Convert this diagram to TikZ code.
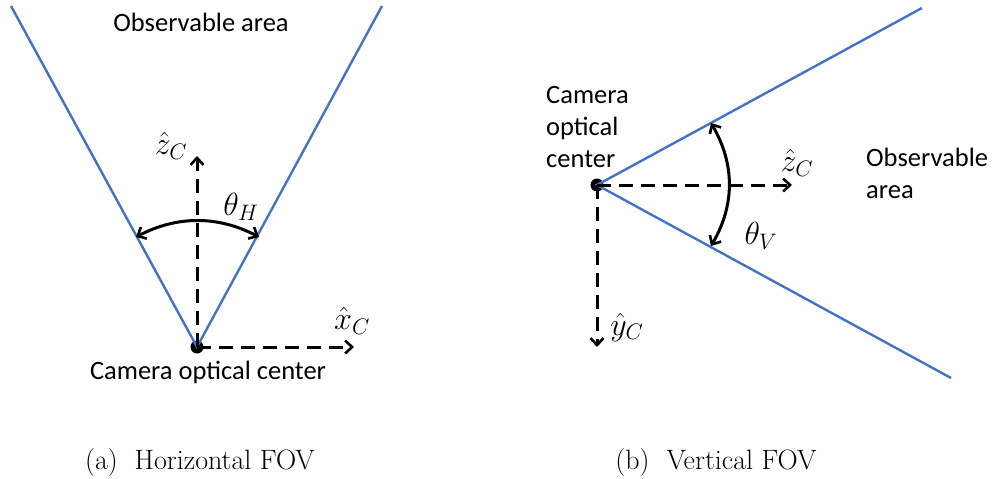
\RequirePackage{fix-cm}
\documentclass[tikz,border=0pt]{standalone}
\usepackage{fontspec}
\setsansfont{Carlito}
\usetikzlibrary{arrows.meta}
\begin{document}
\begin{tikzpicture}[x=1pt,y=-1pt,
  fovc/.style={draw={rgb,255:red,68;green,114;blue,196}, line width=2.4pt},
  tip/.tip={Straight Barb[length=7pt,width=13pt,line width=2.6pt]},
  axis/.style={draw=black, line width=3pt, dash pattern=on 14pt off 8pt, -tip},
  arcarrow/.style={draw=black, line width=3pt, tip-tip},
  dot/.style={circle, fill=black, inner sep=0pt, minimum size=13pt},
  lbl/.style={font=\sffamily\fontsize{26.5}{32}\selectfont, inner sep=0pt},
  mlbl/.style={font=\fontsize{32}{36}\selectfont, inner sep=0pt},
  captext/.style={font=\fontsize{28}{32}\selectfont, inner sep=0pt}]
\useasboundingbox (0,0) rectangle (997,479);
% ---- (a) horizontal
\node[dot] (ca) at (197,347) {};
\coordinate (aL) at (11,6);
\coordinate (aR) at (382,6);
\coordinate (az) at (197,156);
\coordinate (ax) at (354,347);
\draw[fovc] (aL) -- (ca.center) -- (aR);
\draw[axis] (ca.center) -- (az);
\draw[axis] (ca.center) -- (ax);
\coordinate (a1) at (136,237);
\coordinate (a2) at (259,237);
\draw[arcarrow] (a1) .. controls (177,215.5) and (218,215.5) .. (a2);
\node[mlbl] (zA) at (171,146) {$\hat{z}_C$};
\node[mlbl] (thH) at (241,207) {$\theta_H$};
\node[mlbl] (xA) at (352,321) {$\hat{x}_C$};
\node[lbl] (camA) at (208,372) {Camera optical center};
\node[lbl] (obsA) at (201,22) {Observable area};
\node[captext] (capA) at (200,463) {(a)~~Horizontal FOV};
% ---- (b) vertical
\node[dot] (cb) at (597,185) {};
\coordinate (bU) at (922,8);
\coordinate (bD) at (951,378);
\coordinate (bz) at (792,185);
\coordinate (by) at (597,347);
\draw[fovc] (bU) -- (cb.center) -- (bD);
\draw[axis] (cb.center) -- (bz);
\draw[axis] (cb.center) -- (by);
\coordinate (b1) at (711,123);
\coordinate (b2) at (711,246);
\draw[arcarrow] (b1) .. controls (735,164) and (735,205) .. (b2);
\node[mlbl] (zB) at (797,163) {$\hat{z}_C$};
\node[mlbl] (thV) at (761,236) {$\theta_V$};
\node[mlbl] (yB) at (627,327) {$\hat{y}_C$};
\node[lbl, align=left, anchor=west] (camB) at (546,127) {Camera\\optical\\center};
\node[lbl, align=left, anchor=west] (obsB) at (866,173) {Observable\\area};
\node[captext] (capB) at (716,463) {(b)~~Vertical FOV};
\end{tikzpicture}
\end{document}
